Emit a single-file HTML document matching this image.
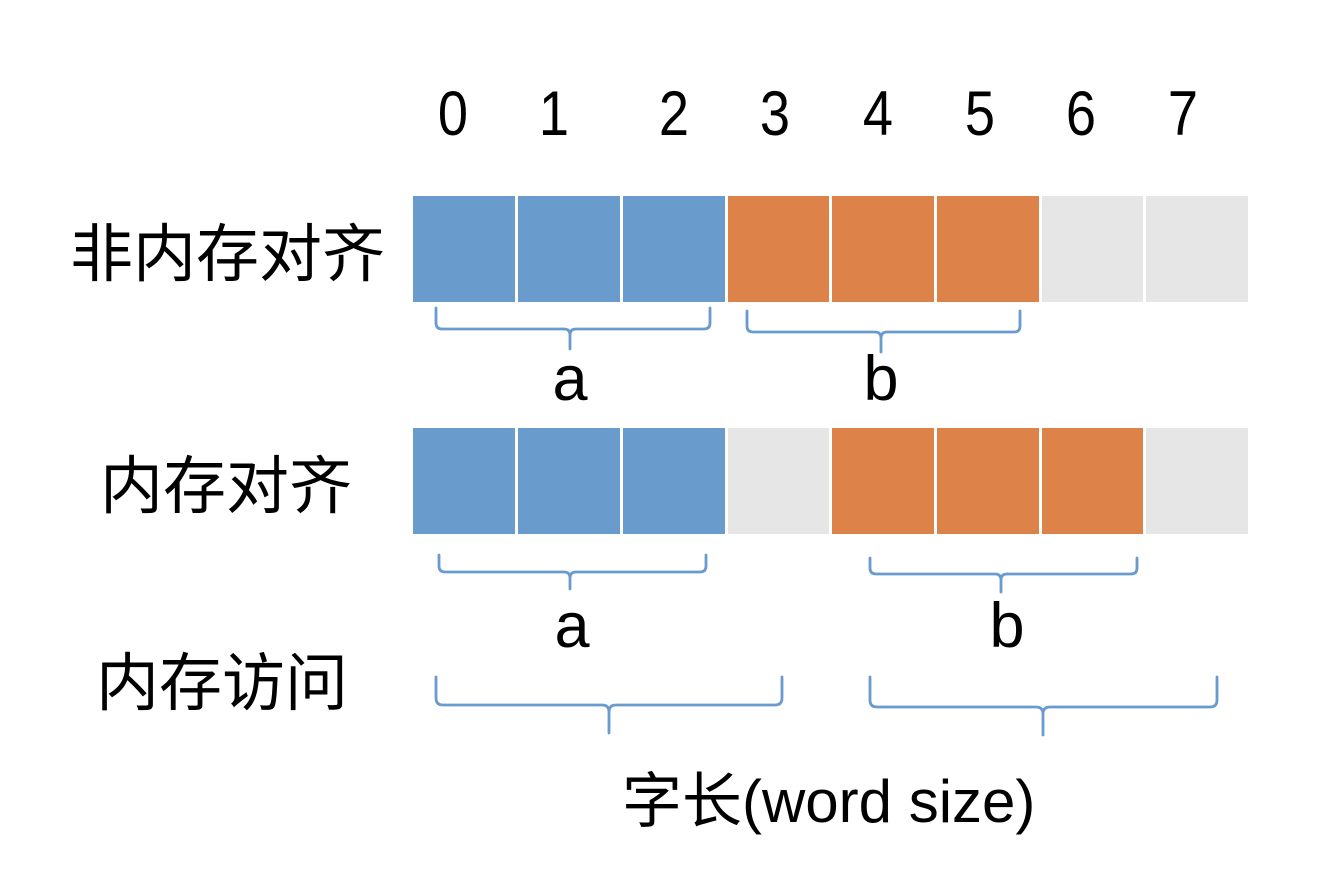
<!DOCTYPE html>
<html>
<head>
<meta charset="utf-8">
<style>
html,body{margin:0;padding:0;background:#fff;}
svg{display:block;}
text{font-family:"Liberation Sans","Noto Sans CJK SC",sans-serif;fill:#000;}
</style>
</head>
<body>
<svg width="1330" height="874" viewBox="0 0 1330 874" xmlns="http://www.w3.org/2000/svg">
  <rect width="1330" height="874" fill="#fff"/>
  <!-- digits -->
  <g font-size="63" text-anchor="middle">
    <text transform="translate(453,135) scale(0.86,1)" x="0" y="0">0</text>
    <text transform="translate(554,135) scale(0.86,1)" x="0" y="0">1</text>
    <text transform="translate(674,135) scale(0.86,1)" x="0" y="0">2</text>
    <text transform="translate(775,135) scale(0.86,1)" x="0" y="0">3</text>
    <text transform="translate(878,135) scale(0.86,1)" x="0" y="0">4</text>
    <text transform="translate(980,135) scale(0.86,1)" x="0" y="0">5</text>
    <text transform="translate(1081,135) scale(0.86,1)" x="0" y="0">6</text>
    <text transform="translate(1183,135) scale(0.86,1)" x="0" y="0">7</text>
  </g>

  <!-- row labels -->
  <g font-size="63">
    <text x="70" y="276">非内存对齐</text>
    <text x="100" y="508">内存对齐</text>
    <text x="96" y="705">内存访问</text>
  </g>

  <!-- row 1 cells -->
  <g>
    <rect x="413" y="196" width="102" height="106" fill="#6a9bcd"/>
    <rect x="518" y="196" width="102" height="106" fill="#6a9bcd"/>
    <rect x="623" y="196" width="102" height="106" fill="#6a9bcd"/>
    <rect x="728" y="196" width="101" height="106" fill="#dd8249"/>
    <rect x="832" y="196" width="102" height="106" fill="#dd8249"/>
    <rect x="937" y="196" width="102" height="106" fill="#dd8249"/>
    <rect x="1042" y="196" width="101" height="106" fill="#e6e6e6"/>
    <rect x="1146" y="196" width="102" height="106" fill="#e6e6e6"/>
  </g>
  <!-- row 2 cells -->
  <g>
    <rect x="413" y="428" width="102" height="106" fill="#6a9bcd"/>
    <rect x="518" y="428" width="102" height="106" fill="#6a9bcd"/>
    <rect x="623" y="428" width="102" height="106" fill="#6a9bcd"/>
    <rect x="728" y="428" width="101" height="106" fill="#e6e6e6"/>
    <rect x="832" y="428" width="102" height="106" fill="#dd8249"/>
    <rect x="937" y="428" width="102" height="106" fill="#dd8249"/>
    <rect x="1042" y="428" width="101" height="106" fill="#dd8249"/>
    <rect x="1146" y="428" width="102" height="106" fill="#e6e6e6"/>
  </g>

  <!-- braces -->
  <g fill="none" stroke="#6a9bd0" stroke-width="2.8" stroke-linecap="round" stroke-linejoin="round">
    <!-- row1 a -->
    <path d="M436,308 L436,323 Q436,329 442,329 L564,329 Q570,329 570,335 L570,349 M570,335 Q570,329 576,329 L704,329 Q710,329 710,323 L710,308"/>
    <!-- row1 b -->
    <path d="M747,311 L747,326 Q747,332 753,332 L875,332 Q881,332 881,338 L881,352 M881,338 Q881,332 887,332 L1014,332 Q1020,332 1020,326 L1020,311"/>
    <!-- row2 a -->
    <path d="M439,555 L439,566 Q439,572 445,572 L564,572 Q570,572 570,578 L570,589 M570,578 Q570,572 576,572 L700,572 Q706,572 706,566 L706,555"/>
    <!-- row2 b -->
    <path d="M870,558 L870,568 Q870,574 876,574 L995,574 Q1001,574 1001,580 L1001,592 M1001,580 Q1001,574 1007,574 L1131,574 Q1137,574 1137,568 L1137,558"/>
    <!-- row3 left -->
    <path d="M436,677 L436,698 Q436,705 443,705 L602,705 Q609,705 609,712 L609,733 M609,712 Q609,705 616,705 L775,705 Q782,705 782,698 L782,677"/>
    <!-- row3 right -->
    <path d="M870,677 L870,700 Q870,707 877,707 L1036,707 Q1043,707 1043,714 L1043,735 M1043,714 Q1043,707 1050,707 L1210,707 Q1217,707 1217,700 L1217,677"/>
  </g>

  <!-- a / b labels -->
  <g font-size="63" text-anchor="middle">
    <text x="570" y="400">a</text>
    <text x="881" y="400">b</text>
    <text x="572" y="647">a</text>
    <text x="1007" y="647">b</text>
  </g>

  <!-- bottom label -->
  <text x="622" y="822" font-size="60">字长(word size)</text>
</svg>
</body>
</html>
